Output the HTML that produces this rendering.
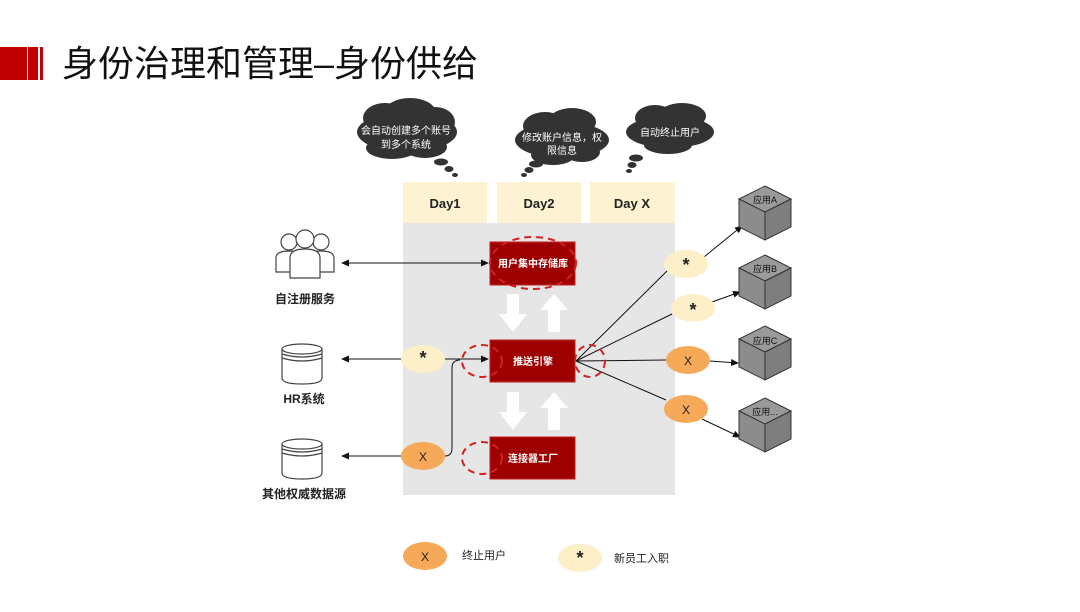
<!DOCTYPE html><html><head><meta charset="utf-8"><style>
body{margin:0;background:#fff;width:1080px;height:607px;overflow:hidden;font-family:"Liberation Sans","Noto Sans CJK SC",sans-serif}
</style></head><body>
<svg width="1080" height="607" viewBox="0 0 1080 607" xmlns="http://www.w3.org/2000/svg" font-family="Liberation Sans, Noto Sans CJK SC, sans-serif">
<defs><marker id="a" markerWidth="8" markerHeight="8" refX="7" refY="4" orient="auto-start-reverse" markerUnits="userSpaceOnUse"><path d="M0,0.5 L8,4 L0,7.5 Z" fill="#111"/></marker></defs>
<rect x="0" y="47" width="27" height="33" fill="#c00000"/><rect x="28" y="47" width="10" height="33" fill="#c00000"/><rect x="40" y="47" width="3" height="33" fill="#c00000"/>
<text x="62" y="76" font-size="36" fill="#111">身份治理和管理–身份供给</text>
<!-- clouds -->
<g fill="#333">
<ellipse cx="407" cy="132" rx="50" ry="20"/><ellipse cx="385" cy="118" rx="22" ry="15"/><ellipse cx="410" cy="113" rx="26" ry="15"/><ellipse cx="435" cy="122" rx="20" ry="15"/><ellipse cx="392" cy="148" rx="26" ry="11"/><ellipse cx="425" cy="147" rx="22" ry="11"/>
<ellipse cx="441" cy="162" rx="7" ry="3.5"/><ellipse cx="449" cy="169" rx="4.5" ry="3"/><ellipse cx="455" cy="175" rx="3" ry="2"/>
<ellipse cx="562" cy="140" rx="47" ry="18"/><ellipse cx="545" cy="126" rx="22" ry="14"/><ellipse cx="572" cy="122" rx="24" ry="14"/><ellipse cx="553" cy="155" rx="22" ry="10"/><ellipse cx="582" cy="152" rx="18" ry="10"/>
<ellipse cx="536" cy="164" rx="7" ry="3.5"/><ellipse cx="529" cy="170" rx="4.5" ry="3"/><ellipse cx="524" cy="175" rx="3" ry="2"/>
<ellipse cx="670" cy="132" rx="44" ry="16"/><ellipse cx="655" cy="118" rx="20" ry="13"/><ellipse cx="682" cy="116" rx="24" ry="13"/><ellipse cx="668" cy="145" rx="24" ry="9"/>
<ellipse cx="636" cy="158" rx="7" ry="3.5"/><ellipse cx="632" cy="165" rx="4.5" ry="3"/><ellipse cx="629" cy="171" rx="3" ry="2"/>
</g>
<g fill="#fff" font-size="10" text-anchor="middle">
<text x="406" y="134">会自动创建多个账号</text><text x="406" y="148">到多个系统</text>
<text x="562" y="141">修改账户信息，权</text><text x="562" y="154">限信息</text>
<text x="670" y="136">自动终止用户</text></g>
<!-- panel -->
<rect x="403" y="223" width="272" height="272" fill="#e6e6e6"/>
<g fill="#fdf3d3"><rect x="403" y="182" width="84" height="41"/><rect x="497" y="182" width="84" height="41"/><rect x="590" y="182" width="85" height="41"/></g>
<g font-size="13" font-weight="bold" text-anchor="middle" fill="#222"><text x="445" y="208">Day1</text><text x="539" y="208">Day2</text><text x="632" y="208">Day X</text></g>
<g fill="#fff">
<path d="M507,294 h12 v20 h8 l-14,18 l-14,-18 h8z"/><path d="M548,332 h12 v-22 h8 l-14,-16 l-14,16 h8z"/>
<path d="M507,392 h12 v20 h8 l-14,18 l-14,-18 h8z"/><path d="M548,430 h12 v-22 h8 l-14,-16 l-14,16 h8z"/>
</g>
<g stroke="#111" stroke-width="1" fill="none">
<line x1="342" y1="263" x2="488" y2="263" marker-start="url(#a)" marker-end="url(#a)"/>
<line x1="342" y1="359" x2="401" y2="359" marker-start="url(#a)"/>
<line x1="445" y1="359" x2="488" y2="359" marker-end="url(#a)"/>
<line x1="342" y1="456" x2="401" y2="456" marker-start="url(#a)"/>
<path d="M445,456 Q452,456 452,448 V368 Q452,360 460,360"/>
<line x1="576" y1="361" x2="668" y2="270"/><line x1="576" y1="361" x2="672" y2="314"/><line x1="576" y1="361" x2="666" y2="360"/><line x1="576" y1="361" x2="666" y2="400"/>
<line x1="704" y1="257" x2="742" y2="226" marker-end="url(#a)"/><line x1="712" y1="302" x2="740" y2="292" marker-end="url(#a)"/>
<line x1="710" y1="361" x2="738" y2="363" marker-end="url(#a)"/><line x1="702" y1="419" x2="740" y2="437" marker-end="url(#a)"/>
</g>
<g fill="#9e0000" stroke="#c02020"><rect x="490" y="242" width="85" height="43"/><rect x="490" y="340" width="85" height="42"/><rect x="490" y="437" width="85" height="42"/></g>
<g fill="#fff" font-size="10" font-weight="bold" text-anchor="middle"><text x="533" y="267">用户集中存储库</text><text x="533" y="365">推送引擎</text><text x="533" y="462">连接器工厂</text></g>
<g fill="none" stroke="#d42020" stroke-width="2" stroke-dasharray="7,5">
<ellipse cx="533" cy="263" rx="43" ry="26"/><ellipse cx="482" cy="361" rx="20" ry="16"/><ellipse cx="590" cy="361" rx="15" ry="16"/><ellipse cx="482" cy="458" rx="20" ry="16"/>
</g>
<g><ellipse cx="423" cy="359" rx="22" ry="14" fill="#fdefc8"/><ellipse cx="423" cy="456" rx="22" ry="14" fill="#f7a95a"/>
<ellipse cx="686" cy="264" rx="22" ry="14" fill="#fdefc8"/><ellipse cx="693" cy="308" rx="22" ry="14" fill="#fdefc8"/>
<ellipse cx="688" cy="360" rx="22" ry="14" fill="#f7a95a"/><ellipse cx="686" cy="409" rx="22" ry="14" fill="#f7a95a"/>
<ellipse cx="425" cy="556" rx="22" ry="14" fill="#f7a95a"/><ellipse cx="580" cy="558" rx="22" ry="14" fill="#fdefc8"/></g>
<g font-size="13" text-anchor="middle" fill="#222" font-weight="bold"><text x="423" y="364" font-size="18">*</text><text x="423" y="461" font-size="12" font-weight="normal">X</text>
<text x="686" y="271" font-size="18">*</text><text x="693" y="316" font-size="18">*</text><text x="688" y="365" font-size="12" font-weight="normal">X</text><text x="686" y="414" font-size="12" font-weight="normal">X</text>
<text x="425" y="561" font-size="12" font-weight="normal">X</text><text x="580" y="564" font-size="18">*</text></g>
<g font-size="11" fill="#222"><text x="462" y="559">终止用户</text><text x="614" y="562">新员工入职</text></g>
<g stroke="#333" stroke-width="1">
<g id="c"><path d="M765,186 L791,199 L765,212 L739,199Z" fill="#9a9a9a"/><path d="M739,199 L765,212 V240 L739,227Z" fill="#8c8c8c"/><path d="M791,199 L765,212 V240 L791,227Z" fill="#7e7e7e"/></g>
<use href="#c" y="69"/><use href="#c" y="140"/><use href="#c" y="212"/>
</g>
<g font-size="9" text-anchor="middle" fill="#111"><text x="765" y="203">应用A</text><text x="765" y="272">应用B</text><text x="765" y="344">应用C</text><text x="765" y="415">应用...</text></g>
<g fill="#fff" stroke="#444" stroke-width="1.2">
<circle cx="289" cy="242" r="8"/><path d="M276,272 V258 Q276,251 289,251 Q302,251 302,258 V272Z"/>
<circle cx="321" cy="242" r="8"/><path d="M308,272 V258 Q308,251 321,251 Q334,251 334,258 V272Z"/>
<circle cx="305" cy="239" r="9"/><path d="M290,278 V258 Q290,249 305,249 Q320,249 320,258 V278Z"/>
</g>
<g fill="#fff" stroke="#444" stroke-width="1.2">
<path d="M282,349 V378 Q282,384 302,384 Q322,384 322,378 V349"/><ellipse cx="302" cy="349" rx="20" ry="5"/><path d="M282,354 Q302,360 322,354 M282,358 Q302,364 322,358" fill="none"/>
<path d="M282,444 V473 Q282,479 302,479 Q322,479 322,473 V444"/><ellipse cx="302" cy="444" rx="20" ry="5"/><path d="M282,449 Q302,455 322,449 M282,453 Q302,459 322,453" fill="none"/>
</g>
<g font-size="12" font-weight="bold" text-anchor="middle" fill="#222"><text x="305" y="303">自注册服务</text><text x="304" y="403">HR系统</text><text x="304" y="498">其他权威数据源</text></g>
</svg>
</body></html>
